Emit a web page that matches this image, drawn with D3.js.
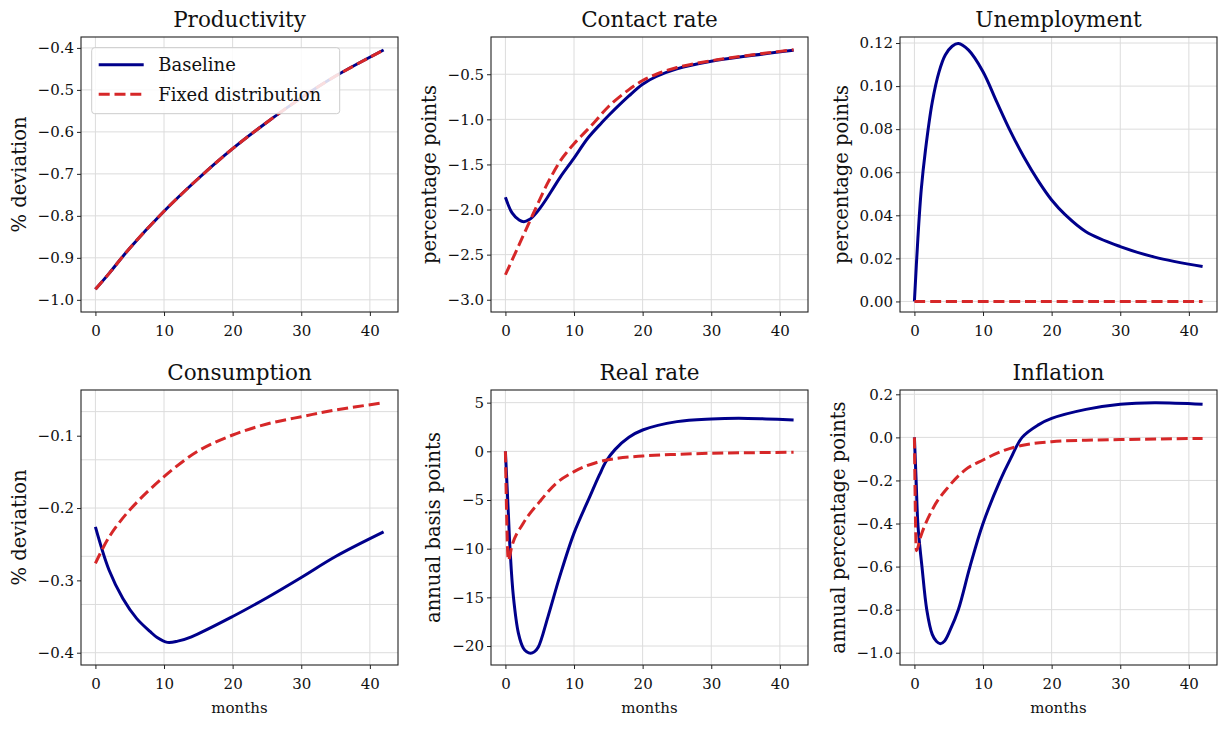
<!DOCTYPE html>
<html lang="en">
<head>
    <meta charset="UTF-8">
    <title>Impulse responses</title>
    <script src="https://cdn.jsdelivr.net/npm/d3@7"></script>
    <style>
        body { margin: 0; background: #fff; }
        svg text { font-family: "DejaVu Serif", serif; fill: #111; }
    </style>
</head>
<body>
    <div id="chart"></div>

    <script>
        // x ticks shared by every panel
        const monthTicks = [0, 10, 20, 30, 40];

        // Productivity (both series coincide)
        const prodMonths = [0, 2, 5, 10, 15, 20, 25, 30, 35, 42];
        const prodBase   = [-0.975, -0.937, -0.877, -0.789, -0.711, -0.640, -0.577, -0.519, -0.467, -0.405];
        const prodFixed  = [-0.975, -0.937, -0.877, -0.789, -0.711, -0.640, -0.577, -0.519, -0.467, -0.405];
        const prodTicks  = [-1.0, -0.9, -0.8, -0.7, -0.6, -0.5, -0.4];

        // Contact rate
        const contactBaseMonths = [0, 1, 2, 2.7, 3.5, 4, 5, 6, 7, 8, 10, 12, 14, 15, 18, 20, 22, 25, 30, 35, 42];
        const contactBase  = [-1.865, -2.04, -2.116, -2.135, -2.11, -2.08, -1.99, -1.88, -1.76, -1.64, -1.43, -1.21, -1.04, -0.96, -0.74, -0.61, -0.525, -0.44, -0.356, -0.30, -0.235];
        const contactFixedMonths = [0, 2, 4, 6, 7, 8, 9, 10, 11.5, 13, 15, 18, 20, 22, 25, 30, 35, 42];
        const contactFixed = [-2.723, -2.39, -2.055, -1.73, -1.59, -1.46, -1.36, -1.27, -1.15, -1.03, -0.86, -0.67, -0.57, -0.50, -0.425, -0.35, -0.295, -0.228];
        const contactTicks = [-3.0, -2.5, -2.0, -1.5, -1.0, -0.5];

        // Unemployment
        const unempBaseMonths = [0, 0.5, 1, 1.6, 2.6, 3.6, 4.5, 5.5, 6.4, 7.9, 10, 12, 14, 16, 18, 20, 22, 25, 30, 35, 42];
        const unempBase  = [0, 0.029, 0.0520, 0.0700, 0.0925, 0.1067, 0.1144, 0.1185, 0.1198, 0.1167, 0.1067, 0.0927, 0.0790, 0.0668, 0.0562, 0.0471, 0.0402, 0.0324, 0.0255, 0.0206, 0.0162];
        const unempFixedMonths = [0, 10, 20, 30, 42];
        const unempFixed = [0, 0, 0, 0, 0];
        const unempTicks = [0.00, 0.02, 0.04, 0.06, 0.08, 0.10, 0.12];

        // Consumption
        const consBaseMonths = [0, 2, 4, 6, 8, 9, 10.5, 12, 14, 20, 25, 30, 35, 42];
        const consBase  = [-0.226, -0.286, -0.325, -0.3525, -0.371, -0.379, -0.3857, -0.384, -0.378, -0.350, -0.324, -0.296, -0.267, -0.233];
        const consFixedMonths = [0, 2, 5, 10, 15, 20, 25, 30, 35, 42];
        const consFixed = [-0.2765, -0.240, -0.2027, -0.1567, -0.121, -0.099, -0.0838, -0.0737, -0.0645, -0.0544];
        const consTicks = [-0.4, -0.3, -0.2, -0.1];
        const consGrid  = [-0.4, -0.3333, -0.2667, -0.2, -0.1333, -0.0667];

        // Real rate
        const rateBaseMonths = [0, 0.43, 0.68, 1.16, 1.9, 2.6, 3.1, 3.67, 4.2, 4.8, 6.2, 7.9, 10, 12.3, 13.7, 14.7, 16, 18, 20, 25, 30, 34, 38, 42];
        const rateBase  = [0, -6.4, -10.1, -14.9, -18.7, -20.2, -20.6, -20.75, -20.6, -20.1, -17.0, -12.9, -8.4, -4.66, -2.43, -1.0, 0.2, 1.44, 2.19, 3.05, 3.33, 3.40, 3.33, 3.22];
        const rateFixedMonths = [0, 0.43, 0.92, 2.6, 5.0, 7.4, 10, 13.7, 16, 20, 25, 30, 36, 42];
        const rateFixed = [0, -11.2, -9.8, -7.4, -5.17, -3.29, -2.09, -1.06, -0.75, -0.48, -0.31, -0.2, -0.14, -0.1];
        const rateTicks = [-20, -15, -10, -5, 0, 5];

        // Inflation
        const inflBaseMonths = [0, 0.25, 0.5, 0.8, 1.1, 1.8, 2.6, 3.2, 3.77, 4.4, 5.2, 6.4, 8.1, 10, 12.5, 14, 15.7, 18, 20, 25, 30, 35, 42];
        const inflBase  = [0, -0.2, -0.4, -0.51, -0.6, -0.8, -0.915, -0.947, -0.958, -0.945, -0.895, -0.8, -0.6, -0.4, -0.2, -0.1, 0.0, 0.057, 0.088, 0.130, 0.154, 0.161, 0.154];
        const inflFixedMonths = [0, 0.29, 0.92, 2.6, 5.0, 7.4, 10, 13.2, 16, 20, 25, 30, 42];
        const inflFixed = [0, -0.526, -0.46, -0.336, -0.228, -0.151, -0.105, -0.059, -0.035, -0.020, -0.013, -0.010, -0.005];
        const inflTicks = [-1.0, -0.8, -0.6, -0.4, -0.2, 0.0, 0.2];

        const seriesNames = ["Baseline", "Fixed distribution"];

        const panels = [
            { title: "Productivity", ylabel: "% deviation", row: 0, col: 0, yDomain: [-1.029, -0.374], ticks: prodTicks, fmt: ".1f",
              base: [prodMonths, prodBase], fixed: [prodMonths, prodFixed], legend: true },
            { title: "Contact rate", ylabel: "percentage points", row: 0, col: 1, yDomain: [-3.136, -0.087], ticks: contactTicks, fmt: ".1f",
              base: [contactBaseMonths, contactBase], fixed: [contactFixedMonths, contactFixed] },
            { title: "Unemployment", ylabel: "percentage points", row: 0, col: 2, yDomain: [-0.0049, 0.1228], ticks: unempTicks, fmt: ".2f",
              base: [unempBaseMonths, unempBase], fixed: [unempFixedMonths, unempFixed] },
            { title: "Consumption", ylabel: "% deviation", row: 1, col: 0, yDomain: [-0.417, -0.0368], ticks: consTicks, grid: consGrid, fmt: ".1f",
              base: [consBaseMonths, consBase], fixed: [consFixedMonths, consFixed] },
            { title: "Real rate", ylabel: "annual basis points", row: 1, col: 1, yDomain: [-21.95, 6.30], ticks: rateTicks, fmt: "d",
              base: [rateBaseMonths, rateBase], fixed: [rateFixedMonths, rateFixed], sharpFixed: true },
            { title: "Inflation", ylabel: "annual percentage points", row: 1, col: 2, yDomain: [-1.057, 0.22], ticks: inflTicks, fmt: ".1f",
              base: [inflBaseMonths, inflBase], fixed: [inflFixedMonths, inflFixed], sharpFixed: true }
        ];

        const width = 1225, height = 729;
        const colLeft = [81, 491, 900], rowTop = [37, 390];
        const pw = 317, ph = 275;
        const blue = "#00008b", red = "#d62728";

        const svg = d3.select("#chart").append("svg")
            .attr("width", width).attr("height", height);

        panels.forEach(p => {
            const left = colLeft[p.col], top = rowTop[p.row];
            const g = svg.append("g").attr("transform", `translate(${left},${top})`);

            const x = d3.scaleLinear().domain([-2.1, 44.1]).range([0, pw]);
            const y = d3.scaleLinear().domain(p.yDomain).range([ph, 0]);

            // grid
            g.append("g").selectAll("line").data(monthTicks).join("line")
                .attr("x1", d => x(d)).attr("x2", d => x(d))
                .attr("y1", 0).attr("y2", ph)
                .attr("stroke", "#dcdcdc").attr("stroke-width", 1);
            g.append("g").selectAll("line").data(p.grid || p.ticks).join("line")
                .attr("x1", 0).attr("x2", pw)
                .attr("y1", d => y(d)).attr("y2", d => y(d))
                .attr("stroke", "#dcdcdc").attr("stroke-width", 1);

            // lines
            const smooth = d3.line().x(d => x(d[0])).y(d => y(d[1])).curve(d3.curveCatmullRom.alpha(0.5));
            const sharp = d3.line().x(d => x(d[0])).y(d => y(d[1])).curve(d3.curveMonotoneX);
            const baseData = p.base[0].map((m, i) => [m, p.base[1][i]]);
            const fixedData = p.fixed[0].map((m, i) => [m, p.fixed[1][i]]);

            g.append("path").datum(baseData).attr("d", smooth)
                .attr("fill", "none").attr("stroke", blue).attr("stroke-width", 3)
                .attr("stroke-linejoin", "round");
            g.append("path").datum(fixedData).attr("d", p.sharpFixed ? sharp : smooth)
                .attr("fill", "none").attr("stroke", red).attr("stroke-width", 3)
                .attr("stroke-dasharray", "11,4.8");

            // axes
            const fmt = d3.format(p.fmt);
            const yAxis = g.append("g")
                .call(d3.axisLeft(y).tickValues(p.ticks).tickFormat(fmt).tickSize(4).tickPadding(3));
            yAxis.select(".domain").remove();
            yAxis.selectAll("text").style("font-size", "15px");
            yAxis.selectAll("line").attr("stroke", "#222");

            const xAxis = g.append("g").attr("transform", `translate(0,${ph})`)
                .call(d3.axisBottom(x).tickValues(monthTicks).tickFormat(d3.format("d")).tickSize(4).tickPadding(9));
            xAxis.select(".domain").remove();
            xAxis.selectAll("text").style("font-size", "15px");
            xAxis.selectAll("line").attr("stroke", "#222");

            // frame
            g.append("rect").attr("width", pw).attr("height", ph)
                .attr("fill", "none").attr("stroke", "#222").attr("stroke-width", 1.1);

            // title
            g.append("text").attr("x", pw / 2).attr("y", -10)
                .attr("text-anchor", "middle").style("font-size", "21.5px").text(p.title);

            // y label
            const bb = yAxis.node().getBBox();
            const lx = bb.x - 12;
            g.append("text")
                .attr("transform", `translate(${lx},${ph / 2}) rotate(-90)`)
                .attr("text-anchor", "middle").style("font-size", "19.5px").text(p.ylabel);

            if (p.row === 1) {
                g.append("text").attr("x", pw / 2).attr("y", ph + 48)
                    .attr("text-anchor", "middle").style("font-size", "15px").text("months");
            }

            if (p.legend) {
                const lg = g.append("g").attr("transform", "translate(10.7,10.7)");
                lg.append("rect").attr("width", 248).attr("height", 66).attr("rx", 3)
                    .attr("fill", "#fff").attr("fill-opacity", 0.85)
                    .attr("stroke", "#cccccc").attr("stroke-width", 1);
                seriesNames.forEach((name, i) => {
                    const ly = 17 + i * 29.5;
                    lg.append("line").attr("x1", 7).attr("x2", 52).attr("y1", ly).attr("y2", ly)
                        .attr("stroke", i === 0 ? blue : red).attr("stroke-width", 3)
                        .attr("stroke-dasharray", i === 0 ? null : "11,4.8");
                    lg.append("text").attr("x", 66.5).attr("y", ly + 6.5)
                        .style("font-size", "18px").text(name);
                });
            }
        });
    </script>
</body>
</html>
